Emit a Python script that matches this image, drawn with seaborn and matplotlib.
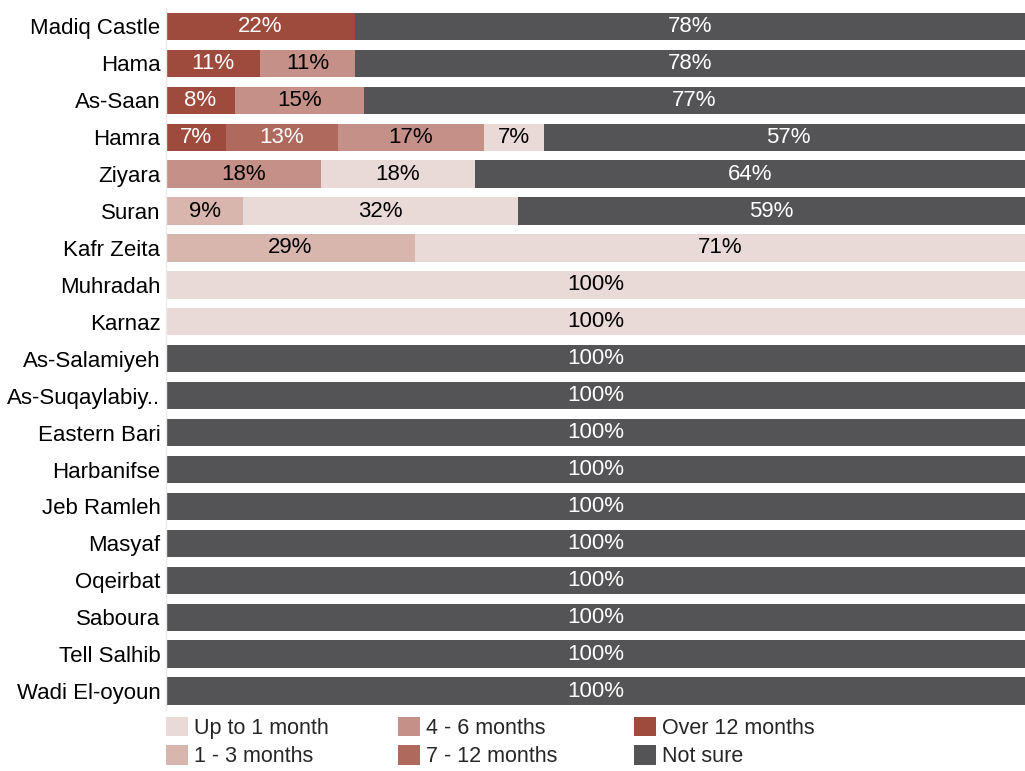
import matplotlib
matplotlib.use("Agg")
import matplotlib.pyplot as plt
import seaborn as sns
import pandas as pd
import numpy as np
from matplotlib.patches import Patch

# Locations, top to bottom
locations = ["Madiq Castle", "Hama", "As-Saan", "Hamra", "Ziyara", "Suran", "Kafr Zeita",
             "Muhradah", "Karnaz", "As-Salamiyeh", "As-Suqaylabiy..", "Eastern Bari",
             "Harbanifse", "Jeb Ramleh", "Masyaf", "Oqeirbat", "Saboura", "Tell Salhib",
             "Wadi El-oyoun"]

# Share of answers per duration (percent), stacked left to right
over_12 = [22, 11, 8, 7, 0, 0, 0, 0, 0, 0, 0, 0, 0, 0, 0, 0, 0, 0, 0]
m7_12 = [0, 0, 0, 13, 0, 0, 0, 0, 0, 0, 0, 0, 0, 0, 0, 0, 0, 0, 0]
m4_6 = [0, 11, 15, 17, 18, 0, 0, 0, 0, 0, 0, 0, 0, 0, 0, 0, 0, 0, 0]
m1_3 = [0, 0, 0, 0, 0, 9, 29, 0, 0, 0, 0, 0, 0, 0, 0, 0, 0, 0, 0]
up_to_1 = [0, 0, 0, 7, 18, 32, 71, 100, 100, 0, 0, 0, 0, 0, 0, 0, 0, 0, 0]
not_sure = [78, 78, 77, 57, 64, 59, 0, 0, 0, 100, 100, 100, 100, 100, 100, 100, 100, 100, 100]

stack_names = ["Over 12 months", "7 - 12 months", "4 - 6 months", "1 - 3 months",
               "Up to 1 month", "Not sure"]
stack_values = [over_12, m7_12, m4_6, m1_3, up_to_1, not_sure]
colors = {"Up to 1 month": "#E9DAD7", "1 - 3 months": "#D8B5AD",
          "4 - 6 months": "#C49087", "7 - 12 months": "#B06A5D",
          "Over 12 months": "#9E4A3C", "Not sure": "#545456"}
light_text = {"Over 12 months", "7 - 12 months", "Not sure"}
legend_order = ["Up to 1 month", "1 - 3 months", "4 - 6 months", "7 - 12 months",
                "Over 12 months", "Not sure"]

sns.set_theme(style="white")
plt.rcParams["font.family"] = ["Liberation Sans Narrow", "Liberation Sans", "DejaVu Sans"]

fig = plt.figure(figsize=(10.25, 7.71), dpi=100)
ax = fig.add_axes([166 / 1025, 1 - 709.5 / 771, 1 - 166 / 1025, (709.5 - 8) / 771])

df = pd.DataFrame({"location": locations})
cum = np.zeros(len(locations))
cums = []
for name, vals in zip(stack_names, stack_values):
    start = cum.copy()
    cum = cum + np.array(vals, dtype=float)
    cums.append((name, start, cum.copy(), vals))

# Draw the running totals from the largest down so each segment stays visible
for name, start, end, vals in reversed(cums):
    d = df.assign(total=end)
    sns.barplot(data=d, x="total", y="location", order=locations, orient="h",
                color=colors[name], width=0.74, saturation=1, ax=ax, linewidth=0)

# Segment value labels
for name, start, end, vals in cums:
    for i, v in enumerate(vals):
        if v > 0:
            ax.text((start[i] + end[i]) / 2, i, f"{v}%", ha="center", va="center",
                    fontsize=16,
                    color="white" if name in light_text else "black")

ax.set_xlim(0, 100)
ax.set_ylim(len(locations) - 0.5, -0.5)
ax.set_xlabel("")
ax.set_ylabel("")
ax.set_xticks([])
ax.tick_params(axis="y", length=0, pad=4, labelsize=16, labelcolor="black")
for side in ["top", "right", "bottom"]:
    ax.spines[side].set_visible(False)
ax.spines["left"].set_color("#EBEBEB")
ax.spines["left"].set_linewidth(1)

# Legend in three columns of two entries
col_x = [166, 398, 634]
for c in range(3):
    names = legend_order[2 * c:2 * c + 2]
    handles = [Patch(facecolor=colors[n], edgecolor="none") for n in names]
    fig.legend(handles, names, loc="upper left",
               bbox_to_anchor=(col_x[c] / 1025, 1 - 717 / 771),
               frameon=False, fontsize=15.5, handlelength=1.0, handleheight=1.0,
               handletextpad=0.3, labelspacing=0.3, borderpad=0, borderaxespad=0)

fig.savefig("out.png", dpi=100)
